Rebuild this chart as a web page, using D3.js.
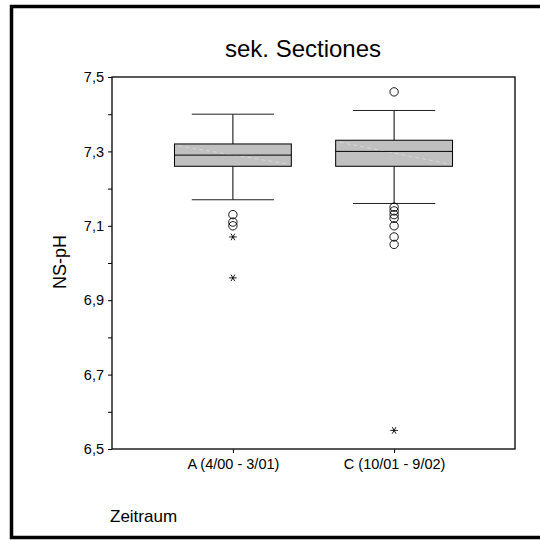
<!DOCTYPE html>
<html>
<head>
<meta charset="utf-8">
<script src="https://cdn.jsdelivr.net/npm/d3@7"></script>
<style>
  html, body { margin: 0; padding: 0; background: #fff; }
  svg { display: block; font-family: Arial, "Liberation Sans", sans-serif; }
</style>
</head>
<body>
<svg id="chart" width="540" height="540"></svg>
<script>
// NS-pH by period, box plot (quartiles, whiskers, outliers "o", extremes "*")
const categories   = ["A (4/00 - 3/01)", "C (10/01 - 9/02)"];
const whiskerLow   = [7.17, 7.16];
const quartile1    = [7.26, 7.26];
const medians      = [7.29, 7.30];
const quartile3    = [7.32, 7.33];
const whiskerHigh  = [7.40, 7.41];
const outliers     = [[7.13, 7.11, 7.10], [7.46, 7.15, 7.14, 7.13, 7.12, 7.10, 7.07, 7.05]];
const extremes     = [[7.07, 6.96], [6.55]];
const yMajorTicks  = [6.5, 6.7, 6.9, 7.1, 7.3, 7.5];
const yTickLabels  = ["6,5", "6,7", "6,9", "7,1", "7,3", "7,5"];
const yMinorTicks  = [6.6, 6.8, 7.0, 7.2, 7.4];

const svg = d3.select("#chart");

// outer frame
svg.append("rect")
  .attr("x", 11.5).attr("y", 6.5)
  .attr("width", 540).attr("height", 531)
  .attr("fill", "none").attr("stroke", "#000").attr("stroke-width", 3.5);

const plot = { left: 112, right: 515, top: 77, bottom: 449 };

const x = d3.scalePoint().domain(categories)
  .range([plot.left, plot.right]).padding(0.75);
const y = d3.scaleLinear().domain([6.5, 7.5]).range([plot.bottom, plot.top]);
const step = x.step();
const boxW = step * 0.725;
const capW = step * 0.51;

// title
svg.append("text")
  .attr("x", 303).attr("y", 57)
  .attr("text-anchor", "middle")
  .attr("font-size", 24)
  .text("sek. Sectiones");

// y axis (major ticks labelled, minor ticks unlabelled)
const yAxis = d3.axisLeft(y)
  .tickValues(yMajorTicks)
  .tickSize(4)
  .tickFormat((d, i) => yTickLabels[i]);
const gy = svg.append("g").attr("transform", `translate(${plot.left},0)`).call(yAxis);
gy.select(".domain").remove();
gy.selectAll("text").attr("font-size", 14.5).attr("font-family", "Arial, 'Liberation Sans', sans-serif").attr("fill", "#000").attr("dx", "-1");
gy.selectAll("line").attr("stroke", "#000");

const yMinor = d3.axisLeft(y).tickValues(yMinorTicks).tickSize(4).tickFormat("");
const gyMinor = svg.append("g").attr("transform", `translate(${plot.left},0)`).call(yMinor);
gyMinor.select(".domain").remove();
gyMinor.selectAll("line").attr("stroke", "#000");

// x axis
const xAxis = d3.axisBottom(x).tickSize(4).tickPadding(6);
const gx = svg.append("g").attr("transform", `translate(0,${plot.bottom})`).call(xAxis);
gx.select(".domain").remove();
gx.selectAll("text").attr("font-size", 14.5).attr("font-family", "Arial, 'Liberation Sans', sans-serif").attr("fill", "#000");
gx.selectAll("line").attr("stroke", "#000");

// plot frame
svg.append("rect")
  .attr("x", plot.left).attr("y", plot.top)
  .attr("width", plot.right - plot.left).attr("height", plot.bottom - plot.top)
  .attr("fill", "none").attr("stroke", "#000").attr("stroke-width", 1.3);

// axis titles
svg.append("text")
  .attr("transform", `translate(66,${(plot.top + plot.bottom) / 2 - 1}) rotate(-90)`)
  .attr("text-anchor", "middle")
  .attr("font-size", 18)
  .text("NS-pH");

svg.append("text")
  .attr("x", 110).attr("y", 522)
  .attr("font-size", 17)
  .text("Zeitraum");

// boxes
const boxes = svg.append("g");
categories.forEach((c, i) => {
  const cx = x(c);
  const g = boxes.append("g");
  // whisker stems
  g.append("line")
    .attr("x1", cx).attr("x2", cx)
    .attr("y1", y(whiskerHigh[i])).attr("y2", y(quartile3[i]))
    .attr("stroke", "#000");
  g.append("line")
    .attr("x1", cx).attr("x2", cx)
    .attr("y1", y(quartile1[i])).attr("y2", y(whiskerLow[i]))
    .attr("stroke", "#000");
  // whisker caps
  [whiskerHigh[i], whiskerLow[i]].forEach(v => {
    g.append("line")
      .attr("x1", cx - capW / 2).attr("x2", cx + capW / 2)
      .attr("y1", y(v)).attr("y2", y(v))
      .attr("stroke", "#222");
  });
  // box body
  const bx = cx - boxW / 2, by = y(quartile3[i]), bh = y(quartile1[i]) - y(quartile3[i]);
  g.append("rect")
    .attr("x", bx).attr("y", by)
    .attr("width", boxW).attr("height", bh)
    .attr("fill", "#c0c0c0").attr("stroke", "none");
  // faint shading seam across the box fill
  g.append("line")
    .attr("x1", bx + 4).attr("y1", by + 2)
    .attr("x2", bx + boxW - 2).attr("y2", by + bh - 2)
    .attr("stroke", "#d6d6d6").attr("stroke-width", 1)
    .attr("stroke-dasharray", "4,3");
  g.append("rect")
    .attr("x", bx).attr("y", by)
    .attr("width", boxW).attr("height", bh)
    .attr("fill", "none").attr("stroke", "#000").attr("stroke-width", 1);
  // median
  g.append("line")
    .attr("x1", bx).attr("x2", bx + boxW)
    .attr("y1", y(medians[i])).attr("y2", y(medians[i]))
    .attr("stroke", "#000");
  // outliers
  g.selectAll("circle.out").data(outliers[i]).join("circle")
    .attr("class", "out")
    .attr("cx", cx).attr("cy", d => y(d)).attr("r", 4.2)
    .attr("fill", "none").attr("stroke", "#000").attr("stroke-width", 0.9);
  // extremes
  const star = d3.symbol(d3.symbolAsterisk, 40);
  g.selectAll("path.ext").data(extremes[i]).join("path")
    .attr("class", "ext")
    .attr("d", star)
    .attr("transform", d => `translate(${cx},${y(d)}) rotate(90)`)
    .attr("fill", "none").attr("stroke", "#000").attr("stroke-width", 0.9);
});
</script>
</body>
</html>
